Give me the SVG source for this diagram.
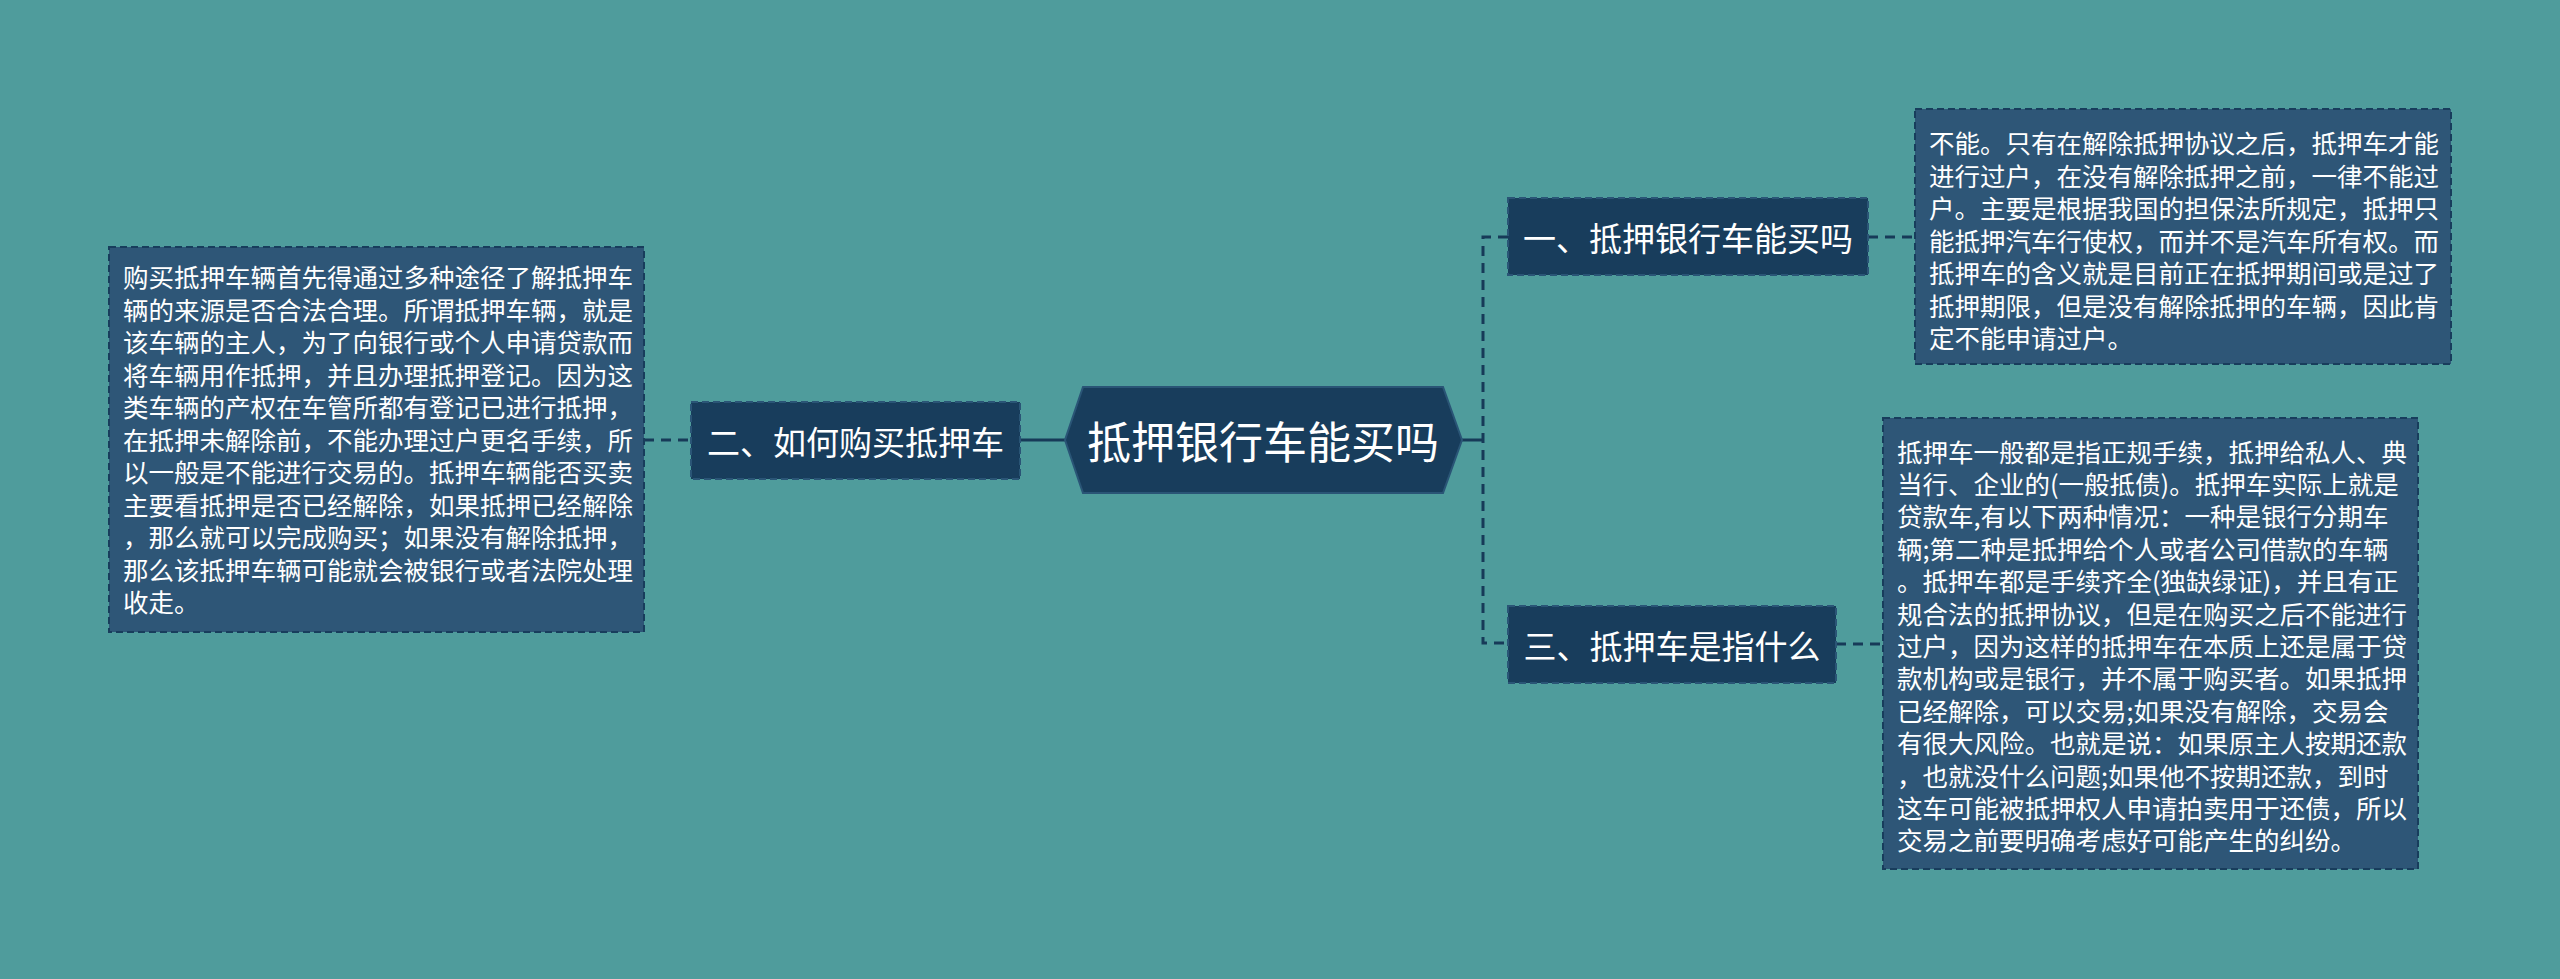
<svg xmlns="http://www.w3.org/2000/svg" width="2560" height="979" viewBox="0 0 2560 979">
<style>
.bg{fill:#4F9C9C}
.conn{fill:none;stroke:#173A58;stroke-width:3}
.dash{stroke-dasharray:10 7}
.node{fill:#183D5C;stroke:#2A5576;stroke-width:2;stroke-dasharray:7 4}
.box{fill:#2E5677;stroke:#183D5C;stroke-width:2;stroke-dasharray:7 4}
.hex{fill:#183D5C;stroke:#2A5576;stroke-width:2}
text{font-family:"Noto Sans CJK SC","Liberation Sans",sans-serif;fill:#FFFFFF}
.nt{font-size:33px;text-anchor:middle;dominant-baseline:central}
.ct{font-size:44px;text-anchor:middle;dominant-baseline:central}
.bt{font-size:25.5px}
</style>
<rect class="bg" x="0" y="0" width="2560" height="979"/>
<g id="connectors">
  <line class="conn dash" x1="644" y1="440" x2="691" y2="440"/>
  <line class="conn" x1="1020" y1="440" x2="1065" y2="440"/>
  <line class="conn" x1="1462" y1="440" x2="1483" y2="440"/>
  <polyline class="conn dash" points="1508,237 1483,237 1483,643 1508,643"/>
  <line class="conn dash" x1="1868" y1="237" x2="1915" y2="237"/>
  <line class="conn dash" x1="1836" y1="644" x2="1883" y2="644"/>
</g>
<g id="center">
  <polygon class="hex" points="1083,387 1443,387 1462,440 1443,493 1083,493 1065,440"/>
  <text class="ct" x="1263" y="440">抵押银行车能买吗</text>
</g>
<g id="node2">
  <rect class="node" x="691" y="402" width="329" height="77"/>
  <text class="nt" x="855.5" y="440.5">二、如何购买抵押车</text>
</g>
<g id="node1">
  <rect class="node" x="1508" y="198" width="360" height="77"/>
  <text class="nt" x="1688" y="236.5">一、抵押银行车能买吗</text>
</g>
<g id="node3">
  <rect class="node" x="1508" y="606" width="328" height="77"/>
  <text class="nt" x="1672" y="644.5">三、抵押车是指什么</text>
</g>
<g id="box2">
  <rect class="box" x="109" y="247" width="535" height="385"/>
  <text class="bt" x="123" y="287">
    <tspan x="123" y="287">购买抵押车辆首先得通过多种途径了解抵押车</tspan>
    <tspan x="123" y="319.5">辆的来源是否合法合理。所谓抵押车辆，就是</tspan>
    <tspan x="123" y="352">该车辆的主人，为了向银行或个人申请贷款而</tspan>
    <tspan x="123" y="384.5">将车辆用作抵押，并且办理抵押登记。因为这</tspan>
    <tspan x="123" y="417">类车辆的产权在车管所都有登记已进行抵押，</tspan>
    <tspan x="123" y="449.5">在抵押未解除前，不能办理过户更名手续，所</tspan>
    <tspan x="123" y="482">以一般是不能进行交易的。抵押车辆能否买卖</tspan>
    <tspan x="123" y="514.5">主要看抵押是否已经解除，如果抵押已经解除</tspan>
    <tspan x="123" y="547">，那么就可以完成购买；如果没有解除抵押，</tspan>
    <tspan x="123" y="579.5">那么该抵押车辆可能就会被银行或者法院处理</tspan>
    <tspan x="123" y="612">收走。</tspan>
  </text>
</g>
<g id="box1">
  <rect class="box" x="1915" y="109" width="536" height="255"/>
  <text class="bt">
    <tspan x="1929" y="153">不能。只有在解除抵押协议之后，抵押车才能</tspan>
    <tspan x="1929" y="185.5">进行过户，在没有解除抵押之前，一律不能过</tspan>
    <tspan x="1929" y="218">户。主要是根据我国的担保法所规定，抵押只</tspan>
    <tspan x="1929" y="250.5">能抵押汽车行使权，而并不是汽车所有权。而</tspan>
    <tspan x="1929" y="283">抵押车的含义就是目前正在抵押期间或是过了</tspan>
    <tspan x="1929" y="315.5">抵押期限，但是没有解除抵押的车辆，因此肯</tspan>
    <tspan x="1929" y="348">定不能申请过户。</tspan>
  </text>
</g>
<g id="box3">
  <rect class="box" x="1883" y="418" width="535" height="451"/>
  <text class="bt">
    <tspan x="1897" y="461.5">抵押车一般都是指正规手续，抵押给私人、典</tspan>
    <tspan x="1897" y="493.9">当行、企业的(一般抵债)。抵押车实际上就是</tspan>
    <tspan x="1897" y="526.3">贷款车,有以下两种情况：一种是银行分期车</tspan>
    <tspan x="1897" y="558.7">辆;第二种是抵押给个人或者公司借款的车辆</tspan>
    <tspan x="1897" y="591.1">。抵押车都是手续齐全(独缺绿证)，并且有正</tspan>
    <tspan x="1897" y="623.5">规合法的抵押协议，但是在购买之后不能进行</tspan>
    <tspan x="1897" y="655.9">过户，因为这样的抵押车在本质上还是属于贷</tspan>
    <tspan x="1897" y="688.3">款机构或是银行，并不属于购买者。如果抵押</tspan>
    <tspan x="1897" y="720.7">已经解除，可以交易;如果没有解除，交易会</tspan>
    <tspan x="1897" y="753.1">有很大风险。也就是说：如果原主人按期还款</tspan>
    <tspan x="1897" y="785.5">，也就没什么问题;如果他不按期还款，到时</tspan>
    <tspan x="1897" y="817.9">这车可能被抵押权人申请拍卖用于还债，所以</tspan>
    <tspan x="1897" y="850.3">交易之前要明确考虑好可能产生的纠纷。</tspan>
  </text>
</g>
</svg>
